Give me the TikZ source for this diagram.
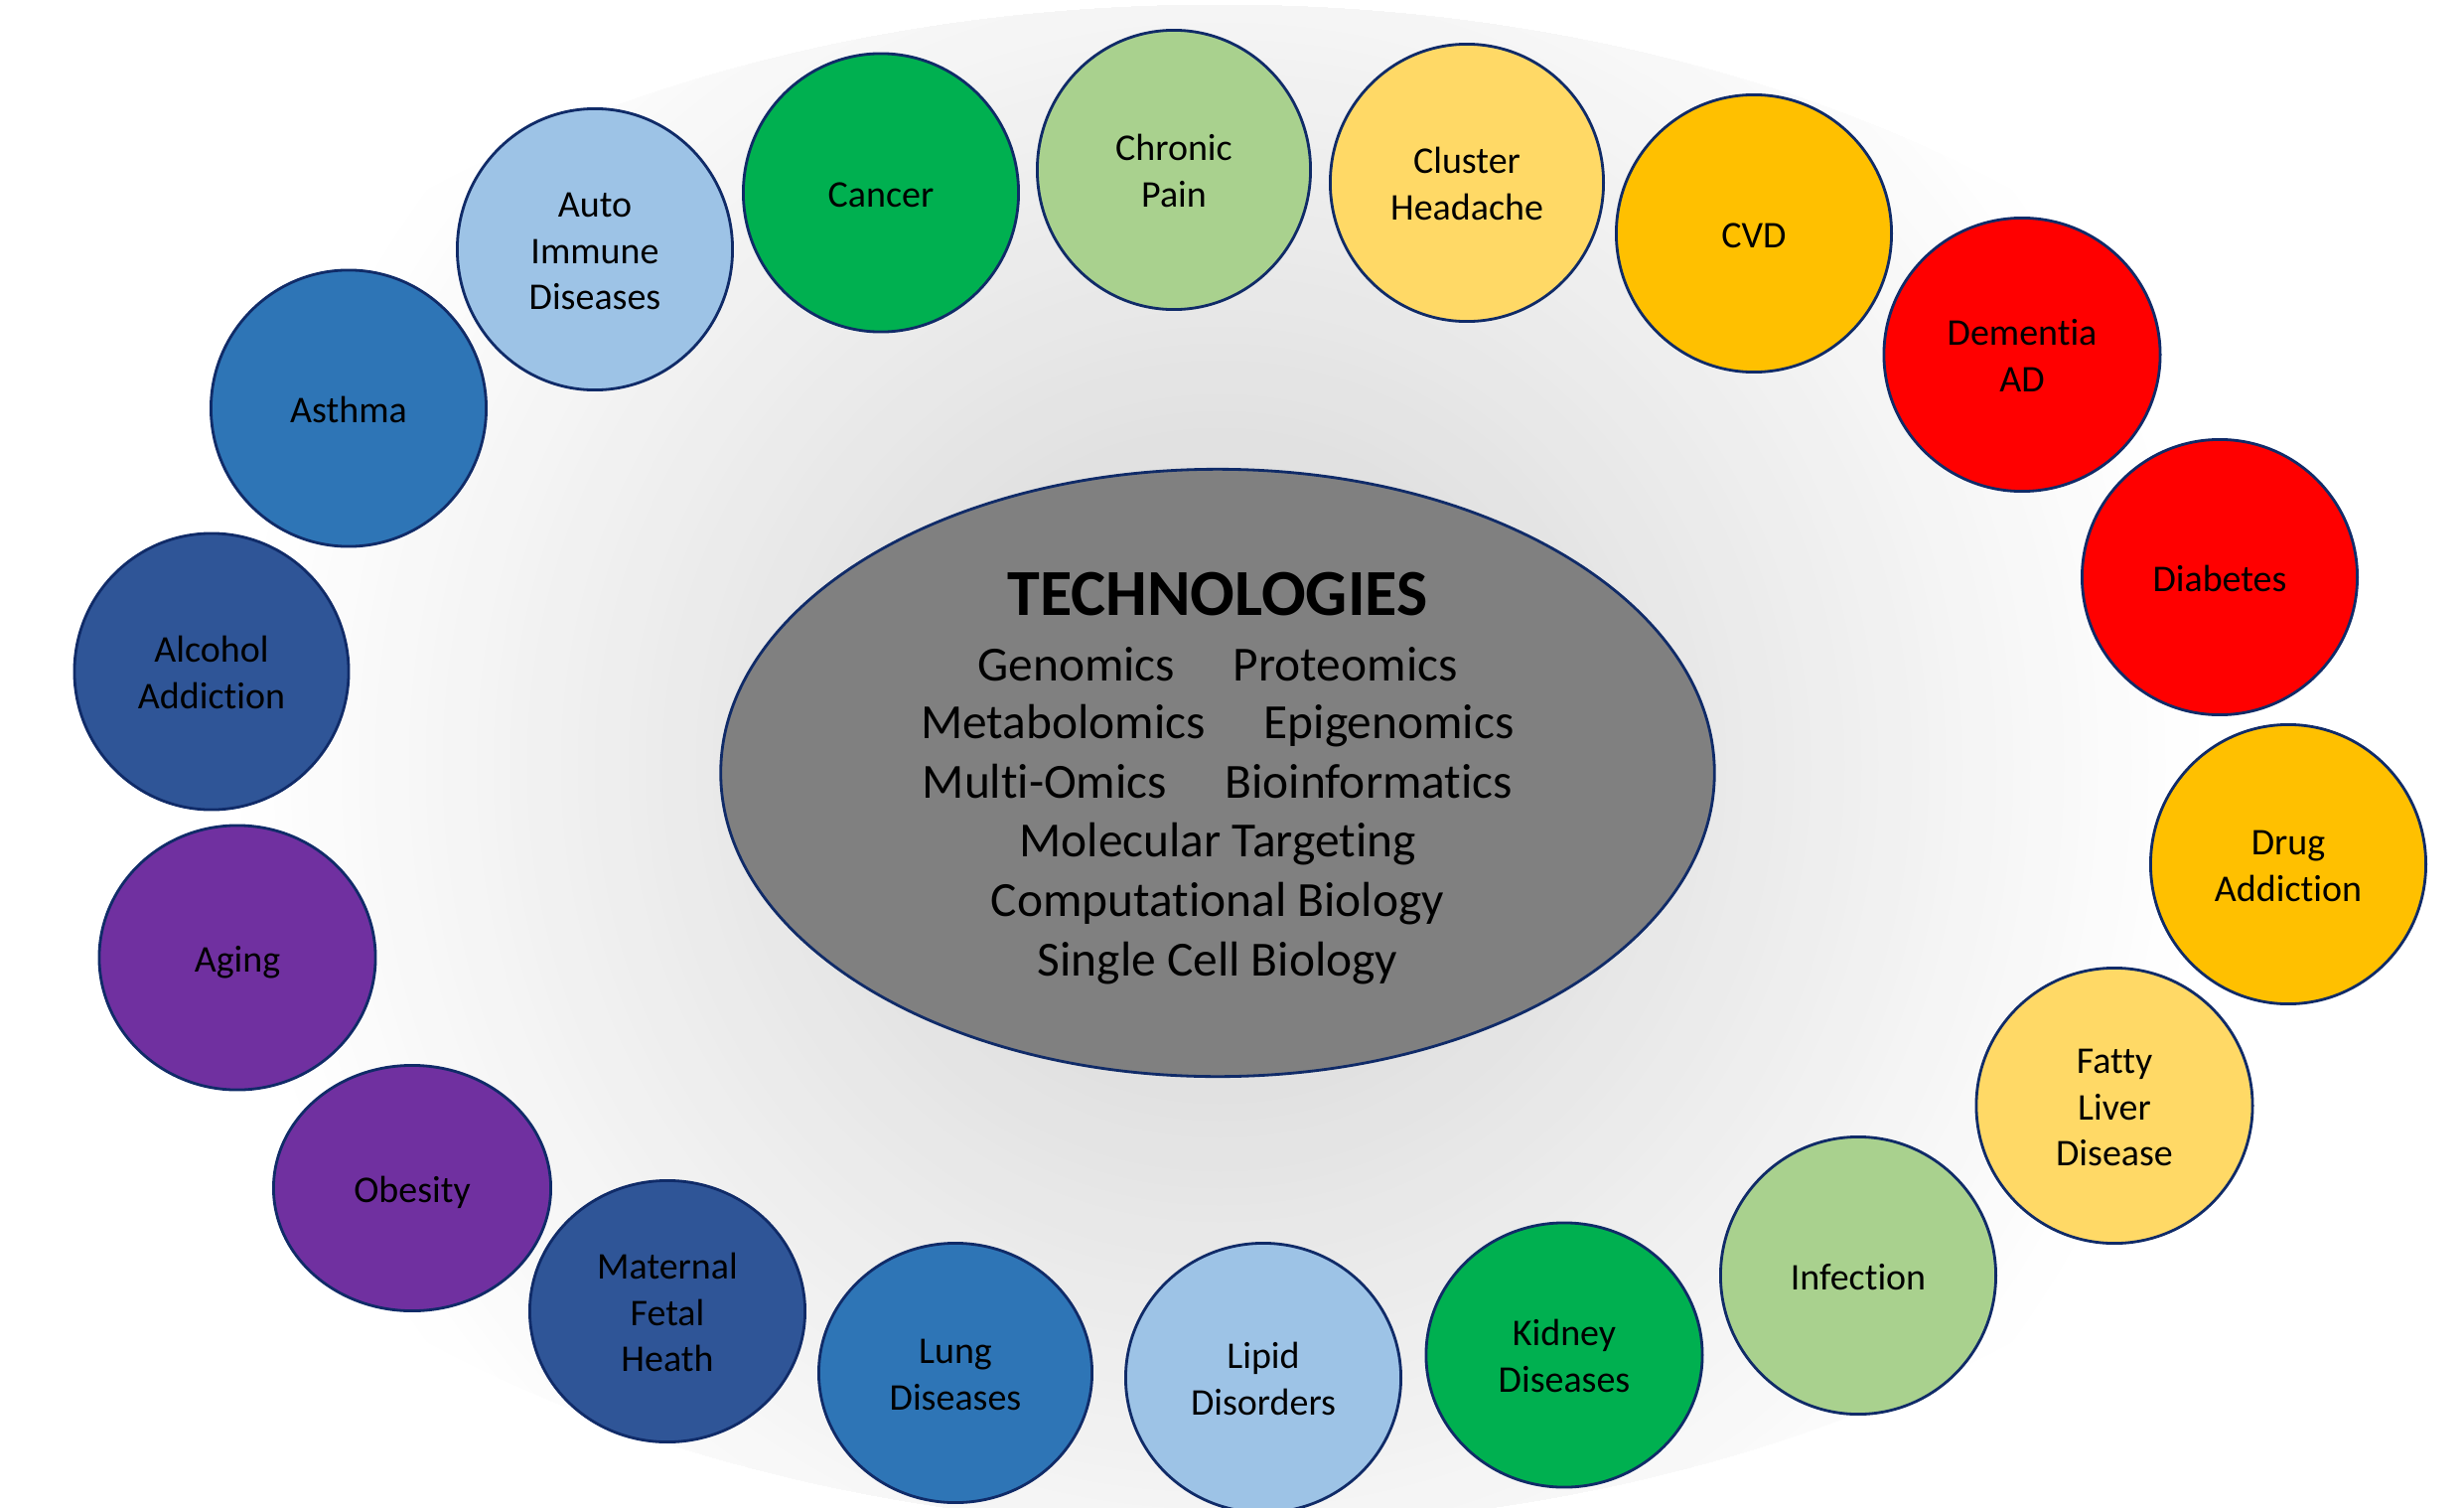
\documentclass[tikz,border=0pt]{standalone}
\usepackage{fontspec}
\setmainfont{Carlito}[Ligatures=NoCommon]
\usetikzlibrary{shapes.geometric}
\definecolor{navy}{HTML}{102B68}
\definecolor{cLBlue}{HTML}{9DC3E6}
\definecolor{cGreen}{HTML}{00B050}
\definecolor{cLGreen}{HTML}{A9D18E}
\definecolor{cLYellow}{HTML}{FFD966}
\definecolor{cGold}{HTML}{FFC000}
\definecolor{cRed}{HTML}{FF0000}
\definecolor{cMBlue}{HTML}{2E75B6}
\definecolor{cDBlue}{HTML}{2F5597}
\definecolor{cPurple}{HTML}{7030A0}
\definecolor{cCore}{HTML}{808080}
\newcommand\lnst{\rule[-0.25em]{0pt}{1.24em}}
\tikzset{
  disease/.style={ellipse, draw=navy, line width=0.8pt, inner sep=0pt,
    font={\fontsize{10.8}{13.2}\selectfont\lineskiplimit=-30pt\lineskip=0pt}, align=center, text=black},
  coretext/.style={anchor=base, inner sep=0pt, font=\fontsize{14.05}{16.9}\selectfont, text=black},
}
\begin{document}
\begin{tikzpicture}[x=0.01cm, y=-0.01cm]
\useasboundingbox (0,0) rectangle (2481,1518);
\fill[white] (0,0) rectangle (2481,1518);
% background radial gradient
\begin{scope}
  \clip (1228,771) ellipse [x radius=1220, y radius=766];
  \foreach \i in {0,...,59} {
    \pgfmathsetmacro\r{1020-17*\i}
    \pgfmathsetmacro\g{min(1,(210+0.045*\r)/255)}
    \definecolor{bgtmp}{gray}{\g}
    \fill[bgtmp] (1228,771) circle [radius=\r];
  }
\end{scope}
% central ellipse
\node[ellipse, draw=navy, line width=0.8pt, fill=cCore, inner sep=0pt,
      minimum width=10.0cm, minimum height=6.11cm] (tech) at (1226,778) {};
\node[coretext, font=\fontsize{18.8}{22}\selectfont\bfseries] (t0) at (1226,619) {TECHNOLOGIES};
\node[coretext] (t1) at (1226,685) {Genomics\hspace{16.7pt}Proteomics};
\node[coretext] (t2) at (1226,743) {Metabolomics\hspace{16.7pt}Epigenomics};
\node[coretext] (t3) at (1226,803) {Multi-Omics\hspace{16.7pt}Bioinformatics};
\node[coretext] (t4) at (1226,862) {Molecular Targeting};
\node[coretext] (t5) at (1226,922) {Computational Biology};
\node[coretext] (t6) at (1226,982) {Single Cell Biology};
% disease circles
\node[disease, fill=cLBlue, minimum width=2.77cm, minimum height=2.83cm] (auto) at (599,251) {\lnst Auto\\\lnst Immune\\\lnst Diseases};
\node[disease, fill=cGreen, minimum width=2.77cm, minimum height=2.80cm] (cancer) at (887,194) {\lnst Cancer};
\node[disease, fill=cLGreen, minimum width=2.75cm, minimum height=2.81cm] (chronic) at (1182,171) {\lnst Chronic\\\lnst Pain};
\node[disease, fill=cLYellow, minimum width=2.75cm, minimum height=2.79cm] (cluster) at (1477,184) {\lnst Cluster\\\lnst Headache};
\node[disease, fill=cGold, minimum width=2.77cm, minimum height=2.79cm] (cvd) at (1766,235) {\lnst CVD};
\node[disease, fill=cRed, minimum width=2.78cm, minimum height=2.75cm] (dementia) at (2036,357) {\lnst Dementia\\\lnst AD};
\node[disease, fill=cRed, minimum width=2.77cm, minimum height=2.77cm] (diabetes) at (2235,581) {\lnst Diabetes};
\node[disease, fill=cGold, minimum width=2.77cm, minimum height=2.81cm] (drug) at (2304,870) {\lnst Drug\\\lnst Addiction};
\node[disease, fill=cLYellow, minimum width=2.78cm, minimum height=2.77cm] (fatty) at (2129,1113) {\lnst Fatty\\\lnst Liver\\\lnst Disease};
\node[disease, fill=cLGreen, minimum width=2.77cm, minimum height=2.79cm] (infection) at (1871,1284) {\lnst Infection};
\node[disease, fill=cGreen, minimum width=2.78cm, minimum height=2.66cm] (kidney) at (1575,1364) {\lnst Kidney\\\lnst Diseases};
\node[disease, fill=cLBlue, minimum width=2.77cm, minimum height=2.71cm] (lipid) at (1272,1387) {\lnst Lipid\\\lnst Disorders};
\node[disease, fill=cMBlue, minimum width=2.75cm, minimum height=2.61cm] (lung) at (962,1382) {\lnst Lung\\\lnst Diseases};
\node[disease, fill=cDBlue, minimum width=2.77cm, minimum height=2.63cm] (maternal) at (672,1320) {\lnst Maternal\\\lnst Fetal\\\lnst Heath};
\node[disease, fill=cPurple, minimum width=2.79cm, minimum height=2.47cm] (obesity) at (415,1196) {\lnst Obesity};
\node[disease, fill=cPurple, minimum width=2.78cm, minimum height=2.66cm] (aging) at (239,964) {\lnst Aging};
\node[disease, fill=cDBlue, minimum width=2.76cm, minimum height=2.78cm] (alcohol) at (213,676) {\lnst Alcohol\\\lnst Addiction};
\node[disease, fill=cMBlue, minimum width=2.77cm, minimum height=2.78cm] (asthma) at (351,411) {\lnst Asthma};
\end{tikzpicture}
\end{document}
